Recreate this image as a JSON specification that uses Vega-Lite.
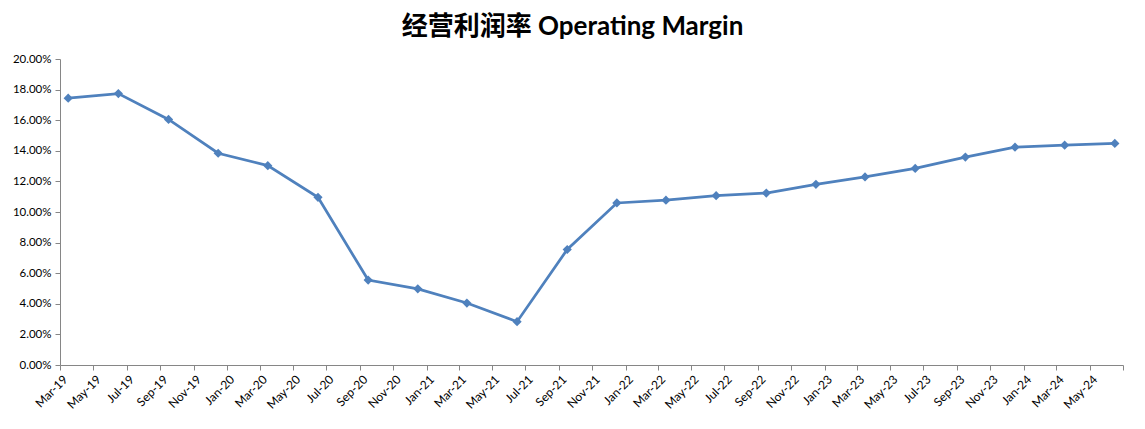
{
  "$schema": "https://vega.github.io/schema/vega-lite/v6.json",
  "width": 1063,
  "height": 306,
  "autosize": {"type": "none"},
  "padding": {"left": 60, "top": 59, "right": 22, "bottom": 64},
  "background": "white",
  "title": {
    "text": "经营利润率 Operating Margin",
    "font": "Lato, Noto Sans CJK SC",
    "fontSize": 26,
    "fontWeight": "bold",
    "color": "#000000",
    "anchor": "middle",
    "frame": "group",
    "dx": -19,
    "offset": 13
  },
  "data": {
    "values": [
      {"date": "2019-03-16", "margin": 0.1744},
      {"date": "2019-06-16", "margin": 0.1774},
      {"date": "2019-09-16", "margin": 0.1605},
      {"date": "2019-12-16", "margin": 0.1384},
      {"date": "2020-03-16", "margin": 0.1303},
      {"date": "2020-06-16", "margin": 0.1096},
      {"date": "2020-09-16", "margin": 0.0555},
      {"date": "2020-12-16", "margin": 0.0498},
      {"date": "2021-03-16", "margin": 0.0405},
      {"date": "2021-06-16", "margin": 0.0283},
      {"date": "2021-09-16", "margin": 0.0755},
      {"date": "2021-12-16", "margin": 0.1059},
      {"date": "2022-03-16", "margin": 0.1077},
      {"date": "2022-06-16", "margin": 0.1107},
      {"date": "2022-09-16", "margin": 0.1124},
      {"date": "2022-12-16", "margin": 0.1181},
      {"date": "2023-03-16", "margin": 0.1229},
      {"date": "2023-06-16", "margin": 0.1285},
      {"date": "2023-09-16", "margin": 0.1359},
      {"date": "2023-12-16", "margin": 0.1424},
      {"date": "2024-03-16", "margin": 0.1437},
      {"date": "2024-06-16", "margin": 0.1448}
    ]
  },
  "mark": {
    "type": "line",
    "color": "#4F81BD",
    "strokeWidth": 2.75,
    "point": {"filled": true, "shape": "diamond", "size": 85, "color": "#4F81BD"}
  },
  "encoding": {
    "x": {
      "field": "date",
      "type": "temporal",
      "title": null,
      "scale": {
        "type": "utc",
        "domain": [
          {"year": 2019, "month": 3, "date": 1, "utc": true},
          {"year": 2024, "month": 7, "date": 1, "utc": true}
        ],
        "nice": false
      },
      "axis": {
        "format": "%b-%y",
        "tickCount": {"interval": "month", "step": 2},
        "labelExpr": "datum.index >= 1 ? '' : datum.label",
        "labelAngle": -45,
        "labelAlign": "right",
        "labelBaseline": "middle",
        "labelFont": "Lato",
        "labelFontSize": 12,
        "labelColor": "#000000",
        "labelPadding": 7,
        "labelOffset": 5,
        "labelOverlap": false,
        "labelFlush": false,
        "grid": false,
        "domainColor": "#868686",
        "tickColor": "#868686",
        "tickSize": 5
      }
    },
    "y": {
      "field": "margin",
      "type": "quantitative",
      "title": null,
      "scale": {"domain": [0, 0.2], "nice": false},
      "axis": {
        "values": [0, 0.02, 0.04, 0.06, 0.08, 0.1, 0.12, 0.14, 0.16, 0.18, 0.2],
        "format": ".2%",
        "labelFont": "Lato",
        "labelFontSize": 11.5,
        "labelColor": "#000000",
        "labelPadding": 4,
        "grid": false,
        "domainColor": "#868686",
        "tickColor": "#868686",
        "tickSize": 5
      }
    }
  },
  "config": {
    "view": {"stroke": null}
  }
}
